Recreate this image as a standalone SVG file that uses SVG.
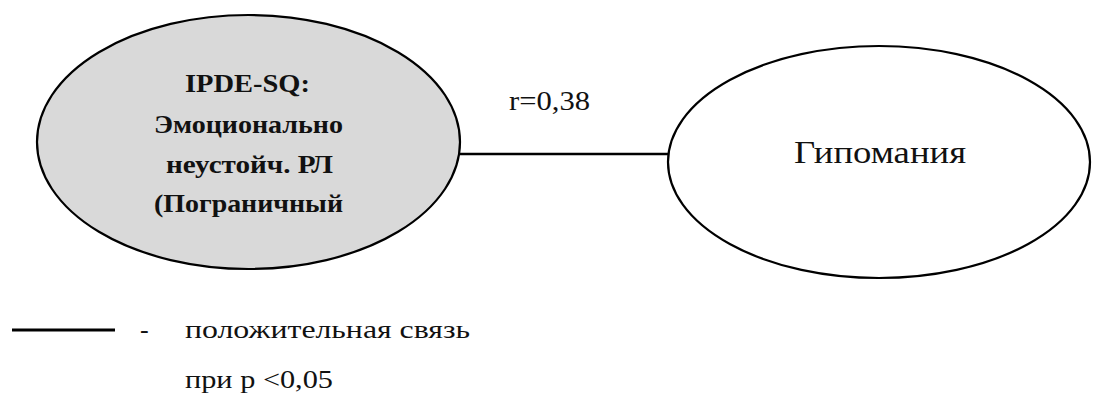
<svg xmlns="http://www.w3.org/2000/svg" width="1093" height="410" viewBox="0 0 1093 410">
  <style>
    .node { stroke: #000; stroke-width: 2.2; }
    .edge { stroke: #000; stroke-width: 2.6; fill: none; }
    .bold { font-family: "Liberation Serif", "Times New Roman", serif; font-weight: bold; font-size: 26px; fill: #111; }
    .reg { font-family: "Liberation Serif", "Times New Roman", serif; fill: #111; }
  </style>
  <rect width="1093" height="410" fill="#fff"/>
  <g id="connectors">
    <line class="edge" x1="459" y1="154" x2="668" y2="154"/>
    <text class="reg" x="509" y="110" font-size="28" textLength="81" lengthAdjust="spacingAndGlyphs">r=0,38</text>
  </g>
  <g id="node-ipde">
    <ellipse class="node" cx="248.5" cy="142" rx="211.5" ry="127" fill="#d9d9d9"/>
    <text class="bold" x="185" y="92" textLength="125" lengthAdjust="spacingAndGlyphs">IPDE-SQ:</text>
    <text class="bold" x="154" y="133" textLength="189" lengthAdjust="spacingAndGlyphs">Эмоционально</text>
    <text class="bold" x="166" y="173" textLength="167" lengthAdjust="spacingAndGlyphs">неустойч. РЛ</text>
    <text class="bold" x="154" y="212" textLength="189" lengthAdjust="spacingAndGlyphs">(Пограничный</text>
  </g>
  <g id="node-hypomania">
    <ellipse class="node" cx="879" cy="162" rx="211" ry="116" fill="#fff"/>
    <text class="reg" x="794" y="163" font-size="32" textLength="172" lengthAdjust="spacingAndGlyphs">Гипомания</text>
  </g>
  <g id="legend">
    <line x1="12" y1="330" x2="115" y2="330" stroke="#000" stroke-width="3"/>
    <text class="reg" x="140" y="338" font-size="26">-</text>
    <text class="reg" x="185" y="338" font-size="26" textLength="285" lengthAdjust="spacingAndGlyphs">положительная связь</text>
    <text class="reg" x="185" y="388" font-size="26" textLength="148" lengthAdjust="spacingAndGlyphs">при р &lt;0,05</text>
  </g>
</svg>
